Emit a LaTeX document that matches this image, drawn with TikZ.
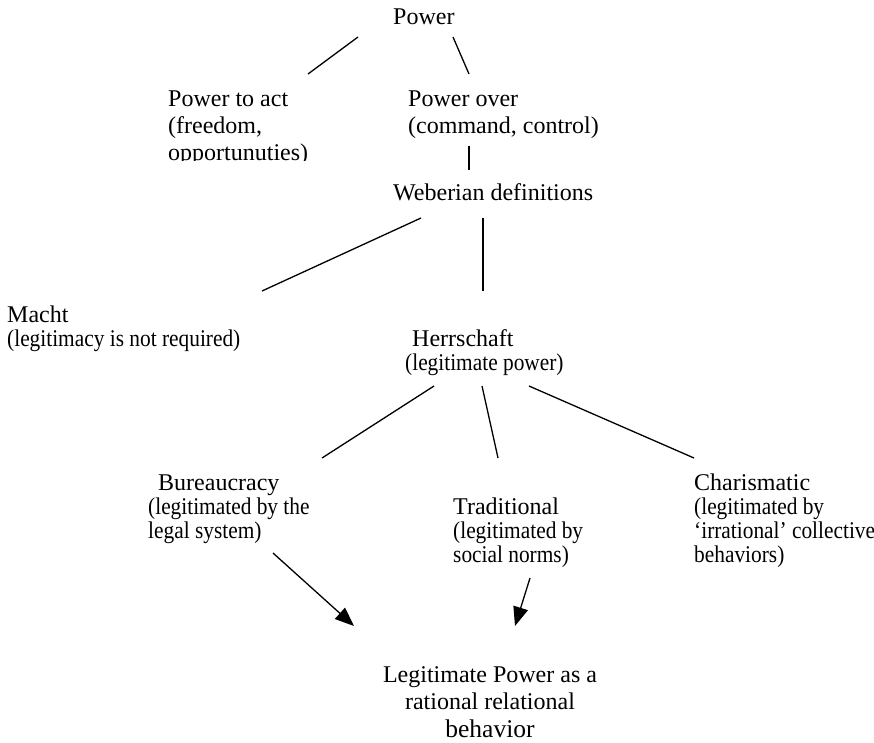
\documentclass[tikz,border=0pt]{standalone}
\usepackage{fontspec}
\setmainfont{Liberation Serif}
\newfontfamily\condfont[FakeStretch=0.89]{Liberation Serif}
\usetikzlibrary{arrows.meta}
\newcommand{\lines}[1]{\begin{tabular}[t]{@{}l@{}}#1\end{tabular}}
\newcommand{\clines}[1]{\begin{tabular}[t]{@{}c@{}}#1\end{tabular}}
\begin{document}
\begin{tikzpicture}[x=1pt,y=-1pt,
  lbl/.style={inner sep=0pt, anchor=base west},
  conn/.style={line width=1.3pt, line cap=butt},
  arr/.style={conn, -{Triangle[length=19pt,width=15pt]}}]
\useasboundingbox (0,0) rectangle (874,742);
% texts
\node[lbl, font=\fontsize{24}{27}\selectfont] (power) at (393,24) {Power};
\begin{scope}
\clip (150,0) rectangle (400,160.5);
\node[lbl, font=\fontsize{24}{27}\selectfont] (act) at (168,106) {\lines{Power to act\\(freedom,\\opportunuties)}};
\end{scope}
\node[lbl, font=\fontsize{24}{27}\selectfont] (over) at (408,106) {\lines{Power over\\(command, control)}};
\node[lbl, font=\fontsize{24}{27}\selectfont] (weber) at (393,200) {Weberian definitions};
\node[lbl, font=\fontsize{24}{24}\selectfont] (macht) at (7,322) {\lines{Macht\\{\condfont (legitimacy is not required)}}};
\node[lbl, font=\fontsize{24}{24}\selectfont] (herr) at (405,346) {\lines{\hspace*{7pt}Herrschaft\\{\condfont (legitimate power)}}};
\node[lbl, font=\fontsize{24}{24}\selectfont] (bur) at (148,490) {\lines{\hspace*{10pt}Bureaucracy\\{\condfont (legitimated by the}\\{\condfont legal system)}}};
\node[lbl, font=\fontsize{24}{24}\selectfont] (trad) at (453,514) {\lines{Traditional\\{\condfont (legitimated by}\\{\condfont social norms)}}};
\node[lbl, font=\fontsize{24}{24}\selectfont] (char) at (694,490) {\lines{Charismatic\\{\condfont (legitimated by}\\{\condfont ‘irrational’ collective}\\{\condfont behaviors)}}};
\node[inner sep=0pt, anchor=base, font=\fontsize{24}{27.5}\selectfont] (legit) at (490,682) {\clines{Legitimate Power as a\\rational relational\\{\fontsize{25.5}{27.5}\selectfont behavior}}};
% connector ends
\coordinate (p1a) at (358,37);  \coordinate (p1b) at (308,74);
\coordinate (p2a) at (453,37);  \coordinate (p2b) at (469,74);
\coordinate (v1a) at (469,146); \coordinate (v1b) at (469,170);
\coordinate (w1a) at (421,218); \coordinate (w1b) at (262,291);
\coordinate (w2a) at (483,218); \coordinate (w2b) at (483,291);
\coordinate (h1a) at (434,386); \coordinate (h1b) at (322,458);
\coordinate (h2a) at (482,386); \coordinate (h2b) at (498,458);
\coordinate (h3a) at (529,386); \coordinate (h3b) at (694,458);
\coordinate (b1a) at (273,553); \coordinate (b1b) at (354,626);
\coordinate (t1a) at (530,578); \coordinate (t1b) at (515,626);
% connectors
\draw[conn] (p1a) -- (p1b);
\draw[conn] (p2a) -- (p2b);
\draw[conn] (v1a) -- (v1b);
\draw[conn] (w1a) -- (w1b);
\draw[conn] (w2a) -- (w2b);
\draw[conn] (h1a) -- (h1b);
\draw[conn] (h2a) -- (h2b);
\draw[conn] (h3a) -- (h3b);
\draw[arr] (b1a) -- (b1b);
\draw[arr] (t1a) -- (t1b);
\end{tikzpicture}
\end{document}
